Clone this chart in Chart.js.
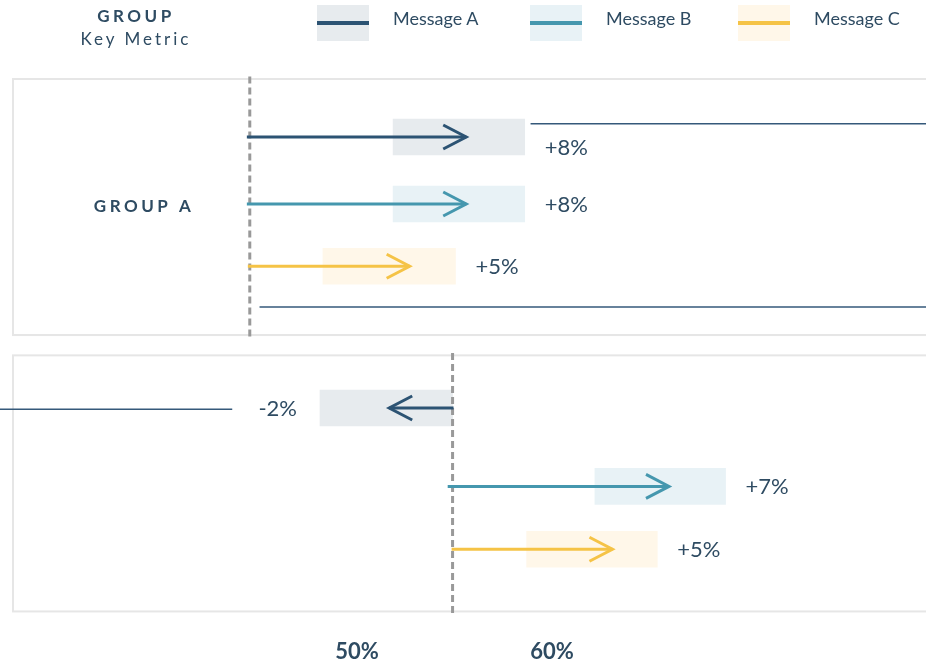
<!DOCTYPE html>
<html>
<head>
<meta charset="utf-8">
<script src="https://cdn.jsdelivr.net/npm/chart.js@4.4.1/dist/chart.umd.min.js"></script>
<style>
  body { margin: 0; background: #fff; font-family: Lato, "Open Sans", sans-serif; color: #2e4b62; }
  #wrap { position: relative; width: 926px; height: 659px; overflow: hidden; }
  #chart { position: absolute; left: 0; top: 0; }
  .head { position: absolute; left: 0; width: 272px; text-align: center; white-space: nowrap; }
  .head.title { top: 5px; font-size: 17px; font-weight: 700; letter-spacing: 3.5px; }
  .head.sub { top: 28px; font-size: 17px; letter-spacing: 3px; }
  .swatch { position: absolute; top: 5px; width: 52px; height: 36px; }
  .swatch span { position: absolute; left: 0; right: 0; top: 16px; height: 4px; }
  .legtext { position: absolute; top: 7px; font-size: 18px; white-space: nowrap; }
</style>
</head>
<body>
<div id="wrap">
  <canvas id="chart" width="926" height="659"></canvas>
  <div class="head title">GROUP</div>
  <div class="head sub">Key Metric</div>
  <div id="legend"></div>
</div>
<script>
// groups and messages
const groups = ['GROUP A', ''];
const messages = ['Message A', 'Message B', 'Message C'];
const lineColors = ['#2c5373', '#4597ae', '#f5c346'];
const boxColors = ['#e7ebee', '#e8f2f6', '#fff7e9'];

// x values (%), one row per group, one entry per message
const baseline = [44.5, 54.9];
const arrowStart = [[44.35, 44.35, 44.4], [54.95, 54.65, 54.85]];
const arrowEnd = [[55.6, 55.6, 52.7], [51.65, 66.0, 63.1]];
const boxLow = [[51.85, 51.85, 48.25], [48.1, 62.2, 58.7]];
const boxHigh = [[58.6, 58.6, 55.05], [54.9, 68.9, 65.4]];
const changeLabels = [['+8%', '+8%', '+5%'], ['-2%', '+7%', '+5%']];

// row positions on the vertical scale
const rowPos = [[2.29, 3.41, 4.45], [6.82, 8.13, 9.18]];
const panelTop = [1.32, 5.94];
const panelBottom = [5.6, 10.22];

// thin reference lines
const refLineY = [2.07, 5.13, 6.84];
const refLineFrom = [58.9, 45.0, 31.69];
const refLineTo = [79.18, 79.18, 43.6];

const xTicks = [50, 60];
const xMin = 31.69, xMax = 79.18;
const yMax = 10.48;

const navy = '#2e4b62';

// html legend
const legend = document.getElementById('legend');
const legendX = [317, 530, 738];
messages.forEach((m, i) => {
    const sw = document.createElement('div');
    sw.className = 'swatch';
    sw.style.left = legendX[i] + 'px';
    sw.style.background = boxColors[i];
    const ln = document.createElement('span');
    ln.style.background = lineColors[i];
    sw.appendChild(ln);
    legend.appendChild(sw);
    const tx = document.createElement('div');
    tx.className = 'legtext';
    tx.style.left = (legendX[i] + 76) + 'px';
    tx.appendChild(document.createTextNode(m));
    legend.appendChild(tx);
});

const datasets = [];

// boxes behind the arrows
messages.forEach((m, i) => {
    datasets.push({
        type: 'bar',
        label: m,
        indexAxis: 'y',
        grouped: false,
        barThickness: 36,
        backgroundColor: boxColors[i],
        borderWidth: 0,
        order: 5,
        data: groups.map((g, gi) => ({ x: [boxLow[gi][i], boxHigh[gi][i]], y: rowPos[gi][i] }))
    });
});

// thin lines
refLineY.forEach((y, i) => {
    datasets.push({
        type: 'line',
        borderColor: '#35597a',
        borderWidth: 1.5,
        pointRadius: 0,
        order: 4,
        data: [{ x: refLineFrom[i], y: y }, { x: refLineTo[i], y: y }]
    });
});

// dashed baselines
groups.forEach((g, gi) => {
    datasets.push({
        type: 'line',
        borderColor: '#999999',
        borderWidth: 3,
        borderDash: [7, 4],
        pointRadius: 0,
        order: 3,
        data: [{ x: baseline[gi], y: panelTop[gi] - 0.04 }, { x: baseline[gi], y: panelBottom[gi] + 0.04 }]
    });
});

// arrows
const arrowIdx = [];
groups.forEach((g, gi) => {
    messages.forEach((m, i) => {
        arrowIdx.push({ ds: datasets.length, gi: gi, i: i });
        datasets.push({
            type: 'line',
            borderColor: lineColors[i],
            borderWidth: 3,
            pointRadius: 0,
            order: 1,
            data: [{ x: arrowStart[gi][i], y: rowPos[gi][i] }, { x: arrowEnd[gi][i], y: rowPos[gi][i] }]
        });
    });
});

const decor = {
    id: 'decor',
    beforeDatasetsDraw(chart) {
        const ctx = chart.ctx;
        const area = chart.chartArea;
        const y = chart.scales.y;
        ctx.save();
        ctx.strokeStyle = '#e6e6e6';
        ctx.lineWidth = 2;
        groups.forEach((g, gi) => {
            const top = y.getPixelForValue(panelTop[gi]);
            const bot = y.getPixelForValue(panelBottom[gi]);
            ctx.strokeRect(area.left + 13, top, area.right + 20, bot - top);
        });
        ctx.restore();
    },
    afterDatasetsDraw(chart) {
        const ctx = chart.ctx;
        const x = chart.scales.x;
        const y = chart.scales.y;
        ctx.save();
        // arrow heads
        arrowIdx.forEach(a => {
            const pts = chart.getDatasetMeta(a.ds).data;
            const p0 = pts[0], p1 = pts[1];
            const dir = p1.x >= p0.x ? 1 : -1;
            ctx.strokeStyle = lineColors[a.i];
            ctx.lineWidth = 3;
            ctx.lineJoin = 'miter';
            ctx.beginPath();
            ctx.moveTo(p1.x - dir * 23, p1.y - 12);
            ctx.lineTo(p1.x, p1.y);
            ctx.lineTo(p1.x - dir * 23, p1.y + 12);
            ctx.stroke();
        });
        // change labels
        ctx.fillStyle = navy;
        ctx.font = '22px Lato';
        ctx.textBaseline = 'middle';
        groups.forEach((g, gi) => {
            messages.forEach((m, i) => {
                const up = arrowEnd[gi][i] >= arrowStart[gi][i];
                const py = y.getPixelForValue(rowPos[gi][i]) + (gi === 0 && i === 0 ? 11 : 1);
                if (up) {
                    ctx.textAlign = 'left';
                    ctx.fillText(changeLabels[gi][i], x.getPixelForValue(boxHigh[gi][i]) + 20, py);
                } else {
                    ctx.textAlign = 'right';
                    ctx.fillText(changeLabels[gi][i], x.getPixelForValue(boxLow[gi][i]) - 23, py);
                }
            });
        });
        // group names
        ctx.font = 'bold 17px Lato';
        ctx.letterSpacing = '3.5px';
        ctx.textAlign = 'center';
        groups.forEach((g, gi) => {
            ctx.fillText(g, 144, y.getPixelForValue(rowPos[gi][1]) + 3);
        });
        ctx.restore();
    }
};

new Chart(document.getElementById('chart'), {
    type: 'line',
    data: { datasets: datasets },
    plugins: [decor],
    options: {
        responsive: false,
        animation: false,
        devicePixelRatio: 1,
        layout: { padding: 0 },
        plugins: { legend: { display: false }, tooltip: { enabled: false } },
        scales: {
            x: {
                type: 'linear',
                min: xMin,
                max: xMax,
                offset: false,
                grid: { display: false },
                border: { display: false },
                afterBuildTicks: s => { s.ticks = xTicks.map(v => ({ value: v })); },
                afterFit: s => { s.height = 32; },
                ticks: {
                    padding: 4,
                    color: navy,
                    font: { family: 'Lato', size: 22, weight: 'bold' },
                    maxRotation: 0,
                    autoSkip: false,
                    callback: v => v + '%'
                }
            },
            y: {
                type: 'linear',
                display: false,
                offset: false,
                reverse: true,
                min: 0,
                max: yMax
            }
        }
    }
});
</script>
</body>
</html>
